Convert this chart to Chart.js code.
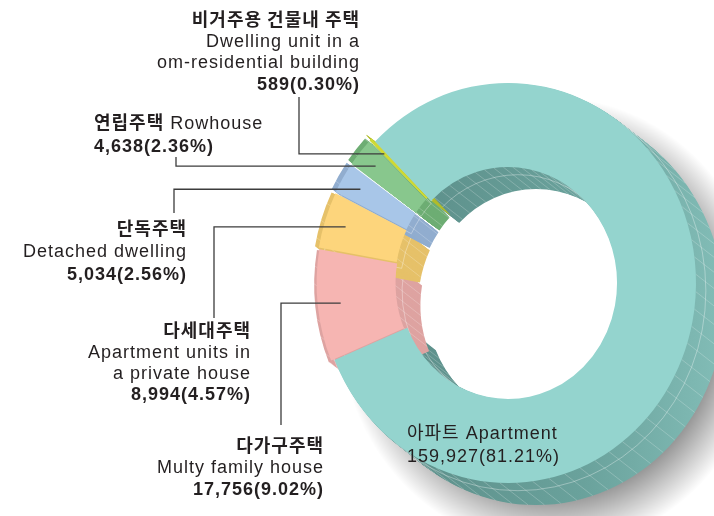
<!DOCTYPE html>
<html lang="ko">
<head>
<meta charset="utf-8">
<title>주택유형별 주택수</title>
<script src="https://cdn.jsdelivr.net/npm/chart.js@4.4.1/dist/chart.umd.min.js"></script>
<style>
  html, body { margin: 0; padding: 0; background: #fff; overflow: hidden; width: 714px; height: 516px; }
  #wrap { position: absolute; left: 0; top: 0; width: 1016px; height: 566px; }
  canvas { display: block; }
</style>
</head>
<body>
<div id="wrap"><canvas id="chart" width="1016" height="566" style="width:1016px;height:566px"></canvas></div>
<script>
// dati
const categoriesKo = ["아파트", "다가구주택", "다세대주택", "단독주택", "연립주택", "비거주용 건물내 주택"];
const categoriesEn = [
  ["Apartment"],
  ["Multy family house"],
  ["Apartment units in", "a private house"],
  ["Detached dwelling"],
  ["Rowhouse"],
  ["Dwelling unit in a", "om-residential building"]
];
const houseCounts = [159927, 17756, 8994, 5034, 4638, 589];
const houseShares = [81.21, 9.02, 4.57, 2.56, 2.36, 0.30];

// stile
const faceColors = ["#94d4ce", "#f6b5b2", "#fdd57c", "#a8c6e8", "#88c78d", "#cfda33"];
const sideColors = [null, "#dea3a1", "#e6c169", "#91adcf", "#6dad73", "#b3bd2b"];
const sliceOffsets = [0, 10, 10, 10, 10, 10];
const SX = 0.94;              // schiacciamento orizzontale
const DEPTH_X = 30, DEPTH_Y = 22;

const KO_BOLD = 'bold 18px "Noto Sans CJK KR"';
const KO_REG = '18px "Noto Sans CJK KR"';
const EN_REG = '18px "Liberation Sans", "Noto Sans CJK KR"';
const NUM_BOLD = 'bold 18px "Liberation Sans"';
const NUM_REG = '18px "Liberation Sans"';

// posizione etichette
const labelBoxes = [
  { align: "left", x: 407, lines: [439, 462], inline: true, plain: true },
  { align: "right", x: 324, lines: [452, 473, 495] },
  { align: "right", x: 251, lines: [337, 358, 379, 400] },
  { align: "right", x: 187, lines: [235, 257, 280] },
  { align: "left", x: 94, lines: [129, 152], inline: true },
  { align: "right", x: 360, lines: [26, 47, 68, 90] }
];
const leaderElbows = [null, { x: 281, y: 425 }, { x: 214, y: 318 }, { x: 174, y: 213 }, { x: 176, y: 157 }, { x: 299, y: 97 }];

function arcGeom(arc) {
  const p = arc.getProps(["x", "y", "startAngle", "endAngle", "innerRadius", "outerRadius", "circumference"], true);
  const off = arc.options.offset || 0;
  const mid = (p.startAngle + p.endAngle) / 2;
  const fix = 1 - Math.sin(Math.min(Math.PI, p.circumference || 0));
  const grow = off * fix;
  const outer = p.outerRadius + grow;
  const inner = p.innerRadius + grow;
  const alpha = p.endAngle - p.startAngle;
  const beta = Math.max(0.001, alpha * outer - grow / Math.PI) / outer;
  const a = (alpha - beta) / 2;
  return {
    x: p.x + Math.cos(mid) * off / 4,
    y: p.y + Math.sin(mid) * off / 4,
    start: p.startAngle + a,
    end: p.endAngle - a,
    inner: inner,
    outer: outer,
    mid: mid
  };
}

function ringPath(ctx, g, dx, dy) {
  ctx.beginPath();
  ctx.arc(g.x + dx, g.y + dy, g.outer, g.start, g.end);
  ctx.arc(g.x + dx, g.y + dy, g.inner, g.end, g.start, true);
  ctx.closePath();
}

const solidPlugin = {
  id: "solid",
  beforeDatasetsDraw(chart) {
    const ctx = chart.ctx;
    const arcs = chart.getDatasetMeta(0).data;
    const cx = arcs[0].x, cy = arcs[0].y;
    const R = arcGeom(arcs[0]).outer;
    ctx.save();

    // ombra
    ctx.save();
    ctx.beginPath();
    ctx.rect(0, 0, 1016, 566);
    ctx.moveTo(cx + R * SX, cy);
    ctx.ellipse(cx, cy, R * SX, R, 0, 0, Math.PI * 2);
    ctx.clip("evenodd");
    ctx.translate(cx + 44, cy + 40);
    ctx.scale(SX, 1);
    const shade = ctx.createRadialGradient(0, 0, R - 30, 0, 0, R + 26);
    shade.addColorStop(0, "rgba(0,0,0,0.45)");
    shade.addColorStop(0.5, "rgba(0,0,0,0.22)");
    shade.addColorStop(1, "rgba(0,0,0,0)");
    ctx.fillStyle = shade;
    ctx.beginPath();
    ctx.arc(0, 0, R + 26, 0, Math.PI * 2);
    ctx.fill();
    ctx.restore();

    ctx.translate(cx, cy);
    ctx.scale(SX, 1);
    ctx.translate(-cx, -cy);

    // spessore
    const teal = ctx.createLinearGradient(380, 0, 714 / SX, 0);
    teal.addColorStop(0, "#5b8d88");
    teal.addColorStop(0.55, "#6aa29c");
    teal.addColorStop(1, "#86c1bb");
    arcs.forEach((arc, i) => {
      const g = arcGeom(arc);
      ctx.fillStyle = i === 0 ? teal : sideColors[i];
      for (let k = DEPTH_X; k >= 1; k--) {
        ringPath(ctx, g, DEPTH_X * k / DEPTH_X, DEPTH_Y * k / DEPTH_X);
        ctx.fill();
      }
      // righe sul fianco
      ctx.strokeStyle = "rgba(255,255,255,0.22)";
      ctx.lineWidth = 1;
      const step = Math.PI / 36;
      ctx.beginPath();
      for (let a = g.start + step / 2; a < g.end; a += step) {
        [g.outer, g.inner].forEach((r) => {
          const x = g.x + Math.cos(a) * r, y = g.y + Math.sin(a) * r;
          ctx.moveTo(x, y);
          ctx.lineTo(x + DEPTH_X, y + DEPTH_Y);
        });
      }
      ctx.stroke();
      ctx.strokeStyle = "rgba(255,255,255,0.35)";
      ringPath(ctx, g, DEPTH_X * 0.35, DEPTH_Y * 0.35);
      ctx.stroke();
    });
  },
  afterDatasetsDraw(chart) {
    chart.ctx.restore();
  },
  afterDraw(chart) {
    const ctx = chart.ctx;
    const arcs = chart.getDatasetMeta(0).data;
    const cx = arcs[0].x;

    // linee guida
    ctx.save();
    ctx.strokeStyle = "#3c3c3c";
    ctx.lineWidth = 1.3;
    arcs.forEach((arc, i) => {
      const e = leaderElbows[i];
      if (!e) return;
      const g = arcGeom(arc);
      const r = g.outer - 28;
      const px = cx + (g.x + Math.cos(g.mid) * r - cx) * SX;
      const py = g.y + Math.sin(g.mid) * r;
      ctx.beginPath();
      ctx.moveTo(e.x, e.y);
      ctx.lineTo(e.x, py);
      ctx.lineTo(px, py);
      ctx.stroke();
    });
    ctx.restore();

    // etichette
    ctx.save();
    ctx.fillStyle = "#231f20";
    ctx.textBaseline = "alphabetic";
    ctx.textAlign = "left";
    if ("letterSpacing" in ctx) ctx.letterSpacing = "1px";
    categoriesKo.forEach((ko, i) => {
      const box = labelBoxes[i];
      const num = houseCounts[i].toLocaleString("en-US") + "(" + houseShares[i].toFixed(2) + "%)";
      let rows;
      if (box.inline) {
        rows = [
          [{ t: ko, f: box.plain ? KO_REG : KO_BOLD }, { t: " " + categoriesEn[i].join(" "), f: EN_REG }],
          [{ t: num, f: box.plain ? NUM_REG : NUM_BOLD }]
        ];
      } else {
        rows = [[{ t: ko, f: KO_BOLD }]];
        categoriesEn[i].forEach((t) => rows.push([{ t: t, f: EN_REG }]));
        rows.push([{ t: num, f: NUM_BOLD }]);
      }
      rows.forEach((parts, j) => {
        let total = 0;
        parts.forEach((p) => {
          ctx.font = p.f;
          p.w = ctx.measureText(p.t).width;
          total += p.w;
        });
        let cur = box.align === "right" ? box.x - total : box.x;
        parts.forEach((p) => {
          ctx.font = p.f;
          ctx.fillText(p.t, cur, box.lines[j]);
          cur += p.w;
        });
      });
    });
    ctx.restore();
  }
};

new Chart(document.getElementById("chart"), {
  type: "doughnut",
  data: {
    labels: categoriesKo,
    datasets: [
      {
        data: houseCounts,
        backgroundColor: faceColors,
        borderWidth: 0,
        offset: sliceOffsets,
        clip: false
      }
    ]
  },
  options: {
    responsive: false,
    animation: false,
    devicePixelRatio: 1,
    events: [],
    rotation: -45,
    radius: 200,
    cutout: "58%",
    layout: { padding: 0 },
    plugins: {
      legend: { display: false },
      tooltip: { enabled: false },
      title: { display: false }
    }
  },
  plugins: [solidPlugin]
});
</script>
</body>
</html>
